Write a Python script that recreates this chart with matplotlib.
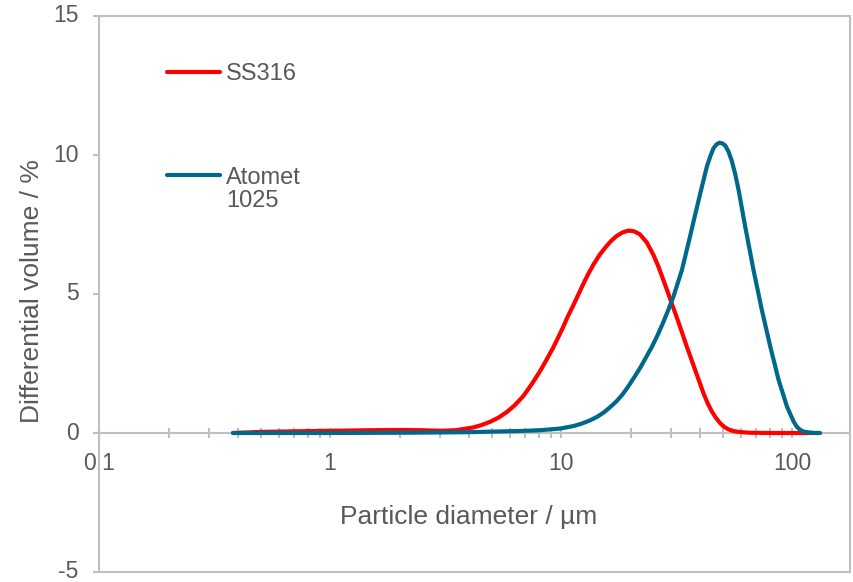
import matplotlib
matplotlib.use("Agg")
import matplotlib.pyplot as plt
from matplotlib.lines import Line2D
from matplotlib.ticker import FixedLocator, FixedFormatter, NullFormatter

plt.rcParams['font.family'] = ['Liberation Sans', 'DejaVu Sans']
plt.rcParams['axes.unicode_minus'] = False

# particle size distributions
ss316_d = [0.38, 0.5, 0.7, 1.0, 1.5, 2.0, 2.5, 3.0, 3.5, 4.17, 4.5, 4.92, 5.35, 5.81,
           6.3, 6.86, 7.45, 8.1, 8.65, 9.25, 9.7, 10.2, 10.7, 11.3, 11.9, 12.5, 13.1,
           13.8, 14.7, 15.7, 16.5, 17.4, 18.4, 19.5, 20.6, 21.9, 23.5, 25.1, 26.4,
           27.7, 28.9, 30.1, 31.4, 32.7, 35.0, 38.0, 41.3, 43.0, 44.9, 46.8, 48.8,
           50.8, 53.0, 55.7, 58.6, 65.0, 80.0, 100.0, 130.0]
ss316_v = [0.0, 0.04, 0.06, 0.08, 0.10, 0.11, 0.10, 0.08, 0.10, 0.20, 0.28, 0.40, 0.55, 0.75,
           1.00, 1.33, 1.75, 2.22, 2.64, 3.08, 3.43, 3.81, 4.20, 4.60, 5.00, 5.38, 5.72,
           6.06, 6.42, 6.72, 6.92, 7.09, 7.21, 7.28, 7.26, 7.15, 6.85, 6.40, 5.97,
           5.50, 5.08, 4.66, 4.24, 3.82, 3.10, 2.27, 1.43, 1.08, 0.77, 0.54, 0.35,
           0.22, 0.13, 0.07, 0.04, 0.01, 0.0, 0.0, 0.0]

atomet_d = [0.38, 0.6, 1.0, 2.0, 3.0, 4.0, 5.0, 6.5, 8.1, 9.9, 11.3, 12.3, 13.3, 14.3,
            15.3, 16.3, 17.4, 18.4, 19.5, 20.7, 22.0, 23.3, 24.7, 26.0, 27.4, 29.0,
            30.6, 33.3, 36.1, 38.0, 40.0, 42.7, 44.2, 45.6, 47.0, 48.4, 49.8, 51.3,
            53.0, 54.8, 56.7, 58.6, 62.6, 68.0, 73.9, 80.4, 87.3, 94.9, 101.4, 104.8,
            108.4, 112.0, 117.8, 125.0, 132.0]
atomet_v = [0.0, 0.0, 0.0, 0.01, 0.02, 0.03, 0.05, 0.07, 0.10, 0.16, 0.25, 0.34, 0.45, 0.58,
            0.74, 0.93, 1.15, 1.38, 1.67, 2.00, 2.35, 2.72, 3.10, 3.48, 3.90, 4.40,
            4.90, 5.86, 7.06, 7.85, 8.62, 9.58, 9.95, 10.24, 10.38, 10.44, 10.42, 10.34,
            10.12, 9.78, 9.30, 8.74, 7.42, 5.86, 4.42, 3.10, 1.91, 0.95, 0.41, 0.22,
            0.11, 0.05, 0.02, 0.0, 0.0]

x_ticks = [0.1, 1, 10, 100]
x_tick_labels = ['0.1', '1', '10', '100']
y_ticks = [-5, 0, 5, 10, 15]

red = '#FF0000'
blue = '#00688B'
grey = '#BFBFBF'
txt = '#595959'

fig = plt.figure(figsize=(8.54, 5.82), dpi=100)
ax = fig.add_axes([99/854, 10/582, 751/854, 556/582])

ax.plot(ss316_d, ss316_v, color=red, lw=3, solid_capstyle='round', solid_joinstyle='round')
ax.plot(atomet_d, atomet_v, color=blue, lw=3, solid_capstyle='round', solid_joinstyle='round')

ax.set_xscale('log')
ax.set_xlim(0.1, 10**2.25)
ax.set_ylim(-5, 15)

for s in ax.spines.values():
    s.set_color(grey)
    s.set_linewidth(1.5)
ax.spines['bottom'].set_position(('data', 0))
ax.spines['bottom'].set_zorder(1)
ax.axhline(-5, color=grey, lw=1.5, clip_on=False)

minors = [m * 10.0**e for e in range(-1, 3) for m in range(2, 10)]
ax.xaxis.set_major_locator(FixedLocator(x_ticks))
ax.xaxis.set_major_formatter(FixedFormatter(x_tick_labels))
ax.xaxis.set_minor_locator(FixedLocator(minors))
ax.xaxis.set_minor_formatter(NullFormatter())
ax.set_yticks(y_ticks)

ax.tick_params(axis='x', which='both', direction='inout', length=7, width=1.5,
               color=grey, pad=10, labelsize=16.5, labelcolor=txt)
ax.tick_params(axis='y', direction='out', length=4.5, width=1.5,
               color=grey, pad=10, labelsize=16.5, labelcolor=txt)
plt.setp(ax.get_yticklabels(), va='center')

ax.set_xlabel('Particle diameter / µm', fontsize=19, color=txt)
ax.set_ylabel('Differential volume / %', fontsize=19, color=txt)
ax.xaxis.set_label_coords(0.4927, 0.121)
ax.yaxis.set_label_coords(-0.0735, 0.5054)

# legend: two boxes so the blue key sits next to the first line of its label
leg1 = ax.legend([Line2D([], [], color=red, lw=3, solid_capstyle='round')], ['SS316'],
                 loc='center left', bbox_to_anchor=(0.0905, 0.8957), frameon=False,
                 borderpad=0, borderaxespad=0, handlelength=2.25, handletextpad=0.25,
                 fontsize=17, labelcolor=txt)
ax.add_artist(leg1)
ax.legend([Line2D([], [], color=blue, lw=3, solid_capstyle='round'),
           Line2D([], [], color='none')], ['Atomet', '1025'],
          loc='upper left', bbox_to_anchor=(0.0905, 0.729), frameon=False,
          borderpad=0, borderaxespad=0, handlelength=2.25, handletextpad=0.25,
          labelspacing=0.05, fontsize=17, labelcolor=txt)

fig.savefig('out.png', dpi=100)
